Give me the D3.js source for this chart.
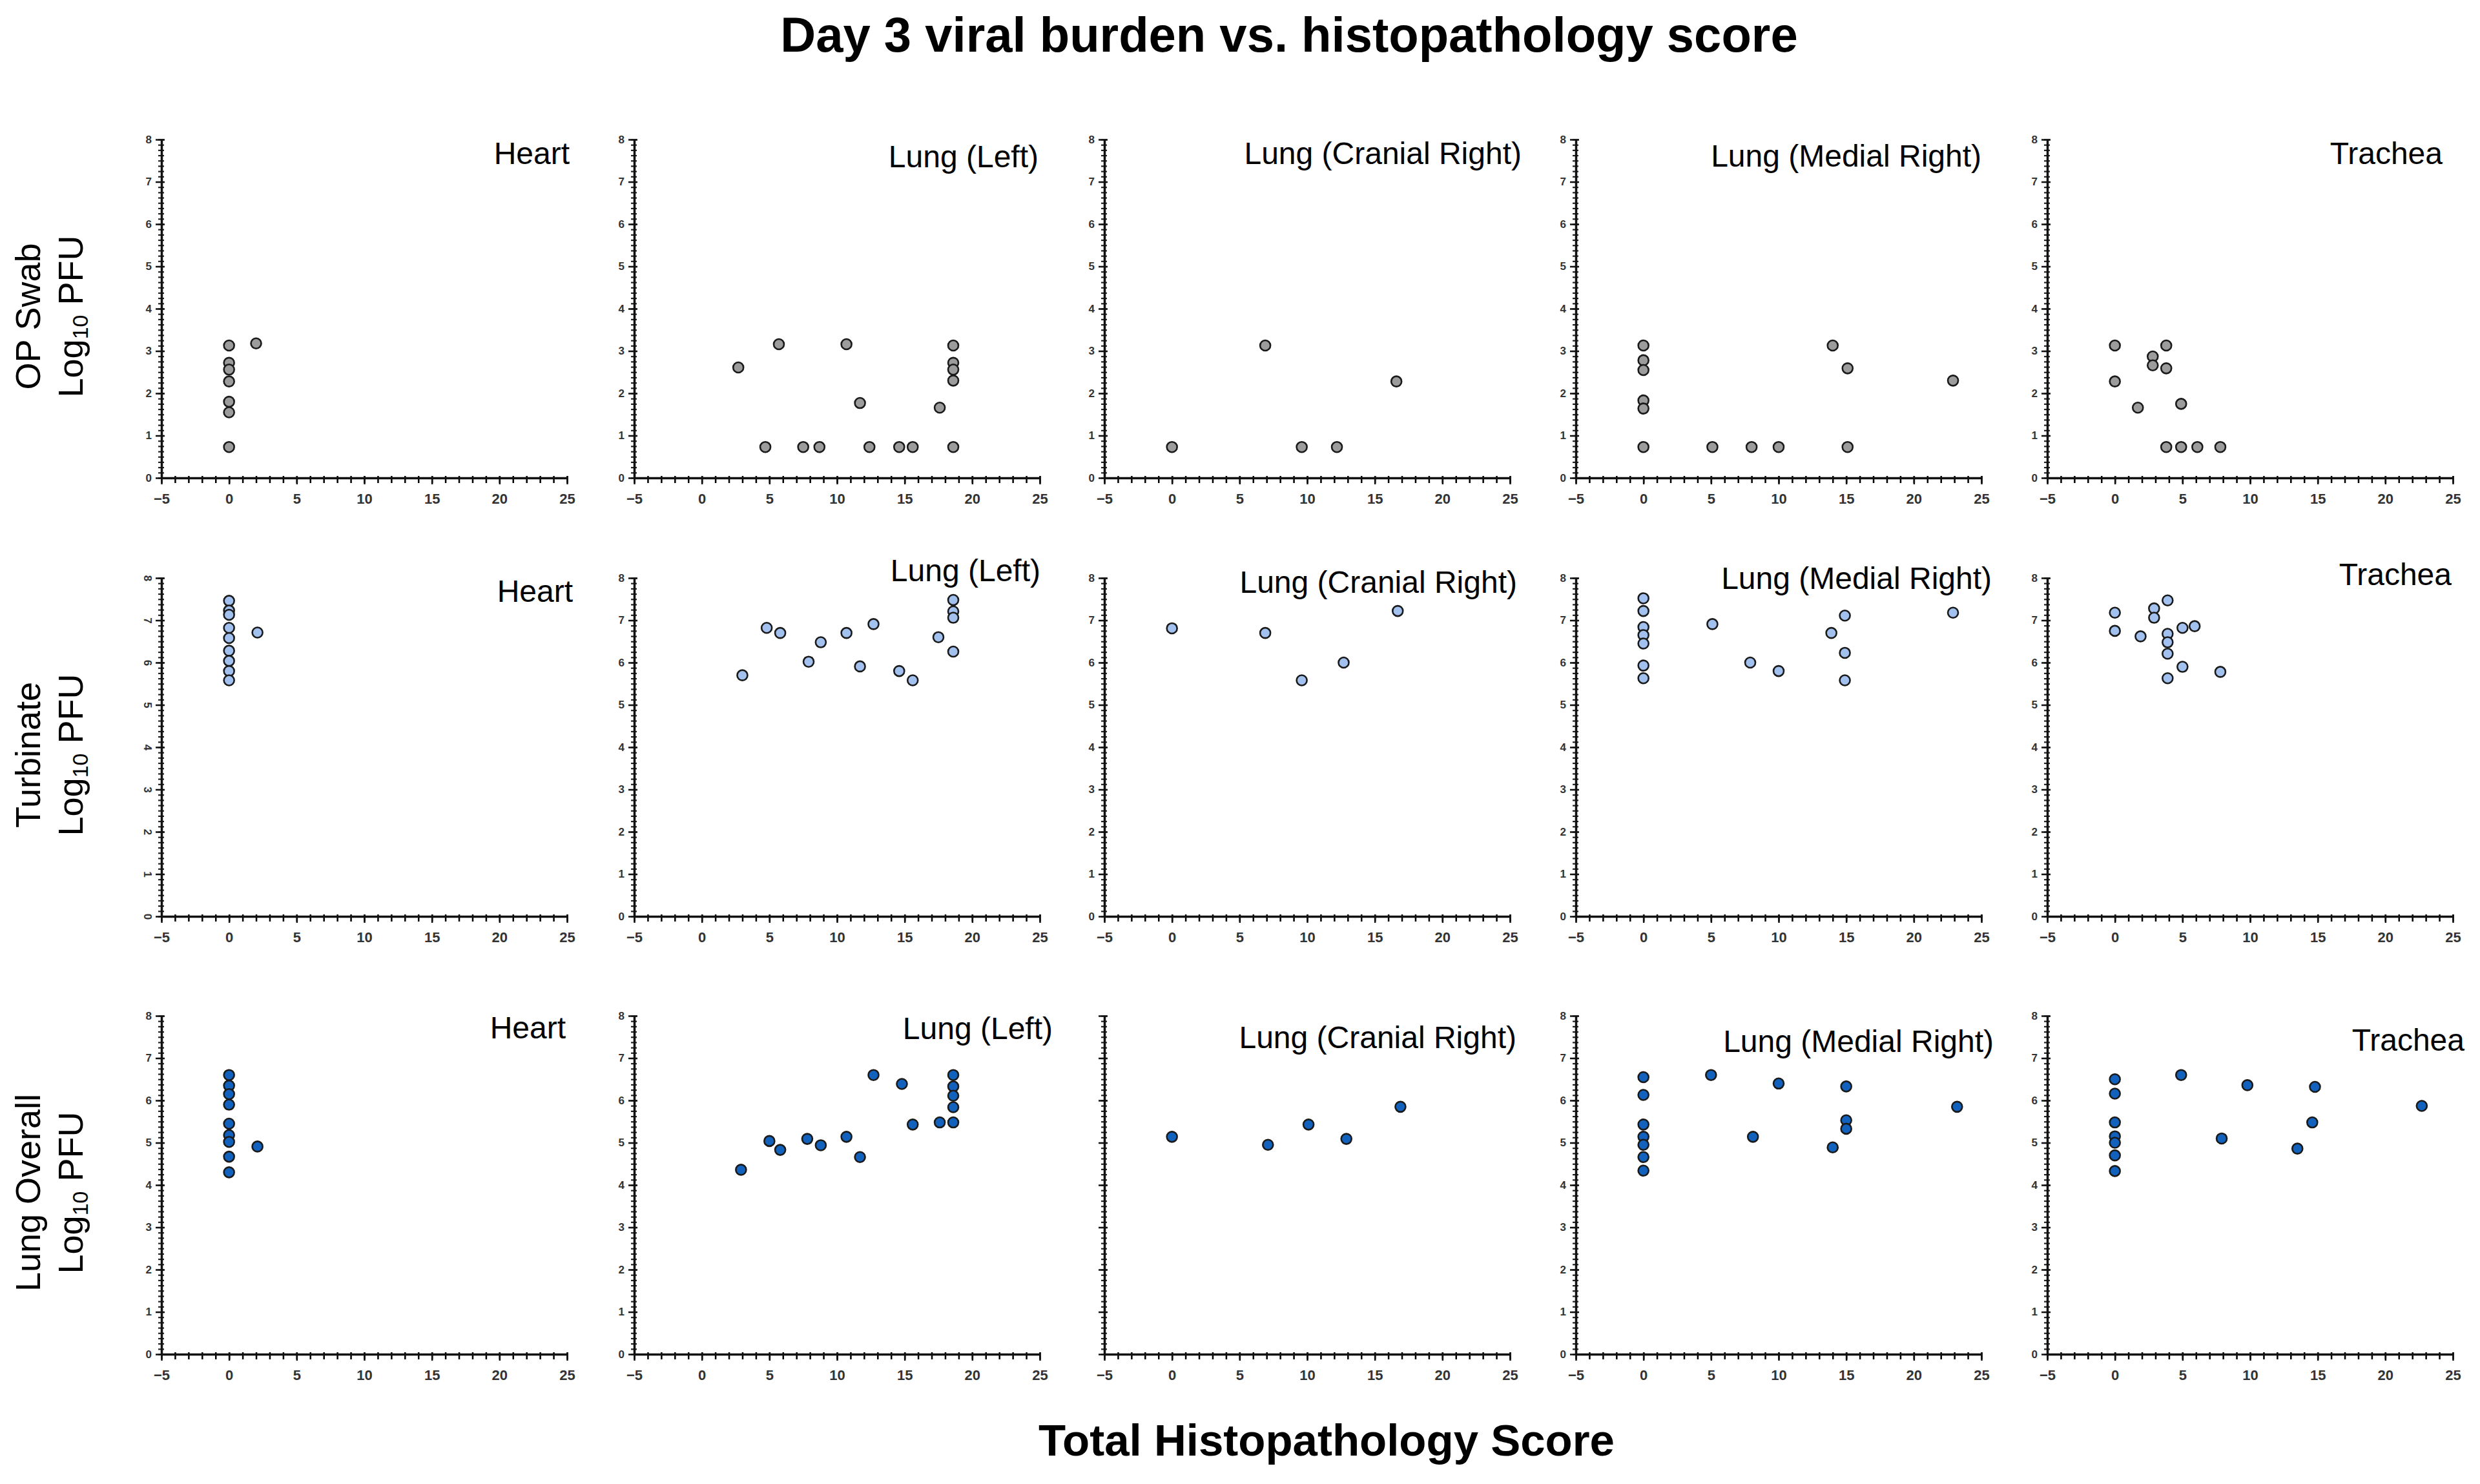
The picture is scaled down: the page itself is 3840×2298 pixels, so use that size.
<!DOCTYPE html>
<html>
<head>
<meta charset="utf-8">
<script src="https://cdn.jsdelivr.net/npm/d3@7"></script>
<style>
body{margin:0;background:#fff}
svg{display:block}
text{font-family:"Liberation Sans",Arial,sans-serif}
</style>
</head>
<body>
<svg id="chart" width="3840" height="2298"></svg>
<script>
// row measures and tissues
var measures = ["OP Swab", "Turbinate", "Lung Overall"];
var tissues = ["Heart", "Lung (Left)", "Lung (Cranial Right)", "Lung (Medial Right)", "Trachea"];
var xTicks = [-5, 0, 5, 10, 15, 20, 25];
var yTicks = [0, 1, 2, 3, 4, 5, 6, 7, 8];

// [histopathology score, log10 PFU]
var opHeart = [[0,3.13],[0,2.72],[0,2.56],[0,2.28],[0,1.80],[0,1.55],[0,0.73],[2,3.18]];
var opLungLeft = [[2.7,2.61],[5.7,3.16],[10.7,3.16],[18.6,3.13],[18.6,2.72],[18.6,2.56],[18.6,2.30],[11.7,1.77],[17.6,1.66],[4.7,0.73],[7.5,0.73],[8.7,0.73],[12.4,0.73],[14.6,0.73],[15.6,0.73],[18.6,0.73]];
var opCranial = [[0,0.73],[6.9,3.13],[9.6,0.73],[12.2,0.73],[16.6,2.28]];
var opMedial = [[0,3.13],[0,2.78],[0,2.55],[0,1.83],[0,1.64],[0,0.73],[5.1,0.73],[8,0.73],[10,0.73],[14,3.13],[15.1,2.59],[15.1,0.73],[22.9,2.30]];
var opTrachea = [[0,3.13],[0,2.28],[1.7,1.66],[2.8,2.87],[2.8,2.66],[3.8,3.13],[3.8,2.59],[4.9,1.75],[3.8,0.73],[4.9,0.73],[6.1,0.73],[7.8,0.73]];

var turbHeart = [[0,7.46],[0,7.23],[0,7.13],[0,6.82],[0,6.58],[0,6.28],[0,6.04],[0,5.80],[0,5.58],[2.1,6.71]];
var turbLungLeft = [[3,5.70],[4.8,6.82],[5.8,6.70],[7.9,6.02],[8.8,6.48],[10.7,6.70],[12.7,6.91],[11.7,5.91],[14.6,5.80],[15.6,5.58],[17.5,6.60],[18.6,7.48],[18.6,7.21],[18.6,7.06],[18.6,6.26]];
var turbCranial = [[0,6.81],[6.9,6.70],[9.6,5.58],[12.7,6.00],[16.7,7.22]];
var turbMedial = [[0,7.52],[0,7.22],[0,6.84],[0,6.65],[0,6.45],[0,5.93],[0,5.63],[5.1,6.91],[7.9,6.00],[10,5.80],[13.9,6.70],[14.9,7.11],[14.9,6.23],[14.9,5.58],[22.9,7.18]];
var turbTrachea = [[0,7.18],[0,6.75],[1.9,6.62],[2.9,7.28],[2.9,7.06],[3.9,7.47],[3.9,6.68],[3.9,6.48],[3.9,6.21],[3.9,5.63],[5,6.82],[5.9,6.86],[5,5.90],[7.8,5.78]];

var lungHeart = [[0,6.60],[0,6.35],[0,6.15],[0,5.90],[0,5.45],[0,5.18],[0,5.02],[0,4.67],[0,4.30],[2.1,4.91]];
var lungLungLeft = [[2.9,4.36],[5,5.04],[5.8,4.83],[7.8,5.09],[8.8,4.94],[10.7,5.14],[11.7,4.66],[12.7,6.60],[14.8,6.39],[15.6,5.43],[17.6,5.48],[18.6,6.60],[18.6,6.33],[18.6,6.11],[18.6,5.84],[18.6,5.48]];
var lungCranial = [[0,5.14],[7.1,4.95],[10.1,5.43],[12.9,5.09],[16.9,5.85]];
var lungMedial = [[0,6.55],[0,6.13],[0,5.43],[0,5.14],[0,4.95],[0,4.66],[0,4.34],[5,6.60],[8.1,5.14],[10,6.40],[15,6.33],[15,5.53],[15,5.33],[14,4.89],[23.2,5.85]];
var lungTrachea = [[0,6.50],[0,6.16],[0,5.48],[0,5.15],[0,5.0],[0,4.70],[0,4.33],[4.9,6.60],[9.8,6.36],[7.9,5.10],[13.5,4.86],[14.6,5.48],[14.8,6.32],[22.7,5.87]];

var grid = [
	[opHeart, opLungLeft, opCranial, opMedial, opTrachea],
	[turbHeart, turbLungLeft, turbCranial, turbMedial, turbTrachea],
	[lungHeart, lungLungLeft, lungCranial, lungMedial, lungTrachea]
];

// layout
var panelLeft = [250, 982, 1710, 2440, 3170];
var rowTop = [216, 895, 1573];
var panelW = 628, panelH = 524;
var rowFill = ["#9c9c9c", "#a3c1ef", "#1262bd"];
// title offset from panel top-right corner
var titleShift = [
	[[4,38],[-2,43],[18,38],[0,42],[-16,38]],
	[[9,37],[1,5],[11,23],[16,17],[-2,11]],
	[[-2,35],[20,36],[10,50],[19,56],[18,54]]
];

var svg = d3.select("#chart");

svg.append("text")
	.attr("x", 1996).attr("y", 80)
	.attr("text-anchor", "middle")
	.attr("font-size", 76).attr("font-weight", "bold")
	.text("Day 3 viral burden vs. histopathology score");

svg.append("text")
	.attr("x", 2054).attr("y", 2254)
	.attr("text-anchor", "middle")
	.attr("font-size", 69).attr("font-weight", "bold")
	.text("Total Histopathology Score");

var x = d3.scaleLinear().domain([-5, 25]).range([0, panelW]);
var y = d3.scaleLinear().domain([0, 8]).range([panelH, 0]);

measures.forEach(function(m, r){
	// row label, rotated
	var cy = rowTop[r] + panelH/2 + 12;
	svg.append("text")
		.attr("transform", "translate(62," + cy + ") rotate(-90)")
		.attr("text-anchor", "middle")
		.attr("font-size", 54)
		.text(m);
	var l2 = svg.append("text")
		.attr("transform", "translate(128," + cy + ") rotate(-90)")
		.attr("text-anchor", "middle")
		.attr("font-size", 54);
	l2.append("tspan").text("Log");
	l2.append("tspan").attr("font-size", 34).attr("dy", 8).text("10");
	l2.append("tspan").attr("dy", -8).text(" PFU");

	tissues.forEach(function(t, c){
		var g = svg.append("g")
			.attr("transform", "translate(" + panelLeft[c] + "," + rowTop[r] + ")");

		// x minor ticks
		var xm = g.append("g").attr("transform", "translate(0," + panelH + ")")
			.call(d3.axisBottom(x).tickValues(d3.range(-5, 26, 1)).tickSize(8).tickSizeOuter(0).tickFormat(""));
		xm.select(".domain").remove();
		xm.selectAll("line").attr("y1", -3).attr("stroke-width", 2.5);

		var xa = g.append("g").attr("transform", "translate(0," + panelH + ")")
			.call(d3.axisBottom(x).tickValues(xTicks).tickSize(10).tickSizeOuter(0).tickPadding(14));
		xa.select(".domain").attr("stroke-width", 3.5).attr("stroke", "#111");
		xa.selectAll("line").attr("y1", -3).attr("stroke-width", 2.5).attr("stroke", "#111");
		xa.selectAll("text").attr("font-size", 22).attr("fill", "#333").attr("font-weight", "bold")
			.style("font-family", "'Liberation Sans',Arial,sans-serif");

		// y minor ticks
		var ym = g.append("g")
			.call(d3.axisLeft(y).tickValues(d3.range(0, 8.001, 0.125)).tickSize(5).tickSizeOuter(0).tickFormat(""));
		ym.select(".domain").remove();
		ym.selectAll("line").attr("x1", 4).attr("stroke-width", 2.2).attr("stroke", "#222");

		var noLabels = (r === 2 && c === 2);
		var ya = g.append("g")
			.call(d3.axisLeft(y).tickValues(yTicks).tickSize(9).tickSizeOuter(0).tickPadding(6)
				.tickFormat(noLabels ? "" : d3.format("d")));
		ya.select(".domain").attr("stroke-width", 3.5).attr("stroke", "#111");
		ya.selectAll("line").attr("x1", 5).attr("stroke-width", 2.5).attr("stroke", "#111");
		ya.selectAll("text").attr("font-size", 17).attr("fill", "#333").attr("font-weight", "bold")
			.style("font-family", "'Liberation Sans',Arial,sans-serif");
		if(r === 1 && c === 0){
			ya.selectAll("text")
				.attr("text-anchor", "middle").attr("x", -22).attr("dy", "0.32em")
				.attr("transform", "rotate(90,-22,0)");
		}

		// title
		var sh = titleShift[r][c];
		g.append("text")
			.attr("x", panelW + sh[0]).attr("y", sh[1])
			.attr("text-anchor", "end")
			.attr("font-size", 48)
			.text(t);

		// points
		g.selectAll("circle.pt")
			.data(grid[r][c])
			.enter().append("circle")
			.attr("class", "pt")
			.attr("cx", function(d){ return x(d[0]); })
			.attr("cy", function(d){ return y(d[1]); })
			.attr("r", 8)
			.attr("fill", rowFill[r])
			.attr("stroke", "#1a1a1a")
			.attr("stroke-width", 2.6);
	});
});
</script>
</body>
</html>
